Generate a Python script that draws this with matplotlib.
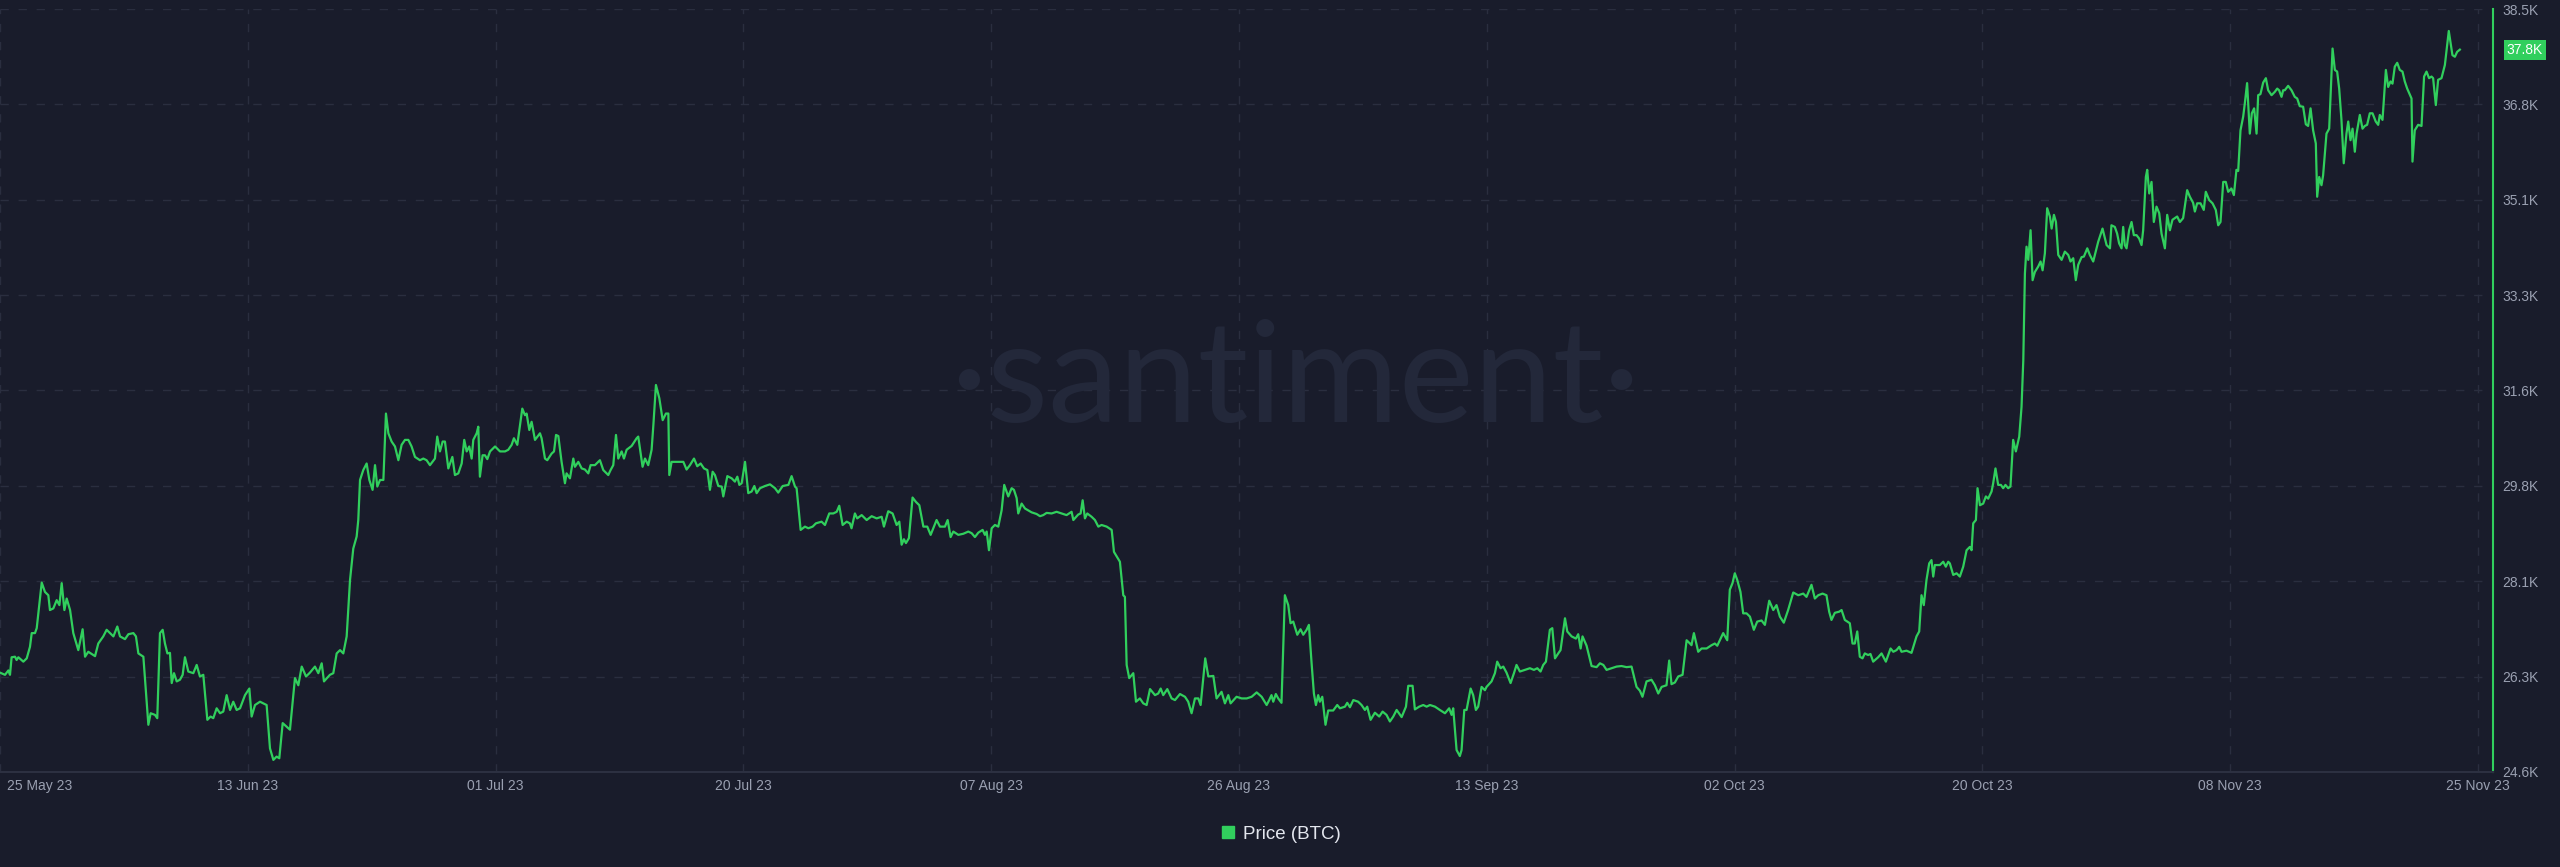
import numpy as np
import matplotlib
matplotlib.use("Agg")
import matplotlib.pyplot as plt
from matplotlib.lines import Line2D
from matplotlib.transforms import ScaledTranslation, blended_transform_factory

# BTC price, (days since chart start, price in K USD)
seg_may_jun = [
    (0.00, 26.41), (0.37, 26.37), (0.49, 26.41), (0.62, 26.45), (0.74, 26.37), (0.86, 26.69),
    (1.11, 26.70), (1.23, 26.64), (1.36, 26.69), (1.73, 26.61), (1.98, 26.67), (2.22, 26.88),
    (2.35, 27.13), (2.59, 27.13), (2.72, 27.22), (3.09, 28.05), (3.33, 27.88), (3.58, 27.82),
    (3.70, 27.55), (3.95, 27.58), (4.20, 27.73), (4.40, 27.64), (4.57, 28.04), (4.77, 27.55),
    (4.94, 27.76), (5.19, 27.55), (5.43, 27.13), (5.80, 26.82), (6.12, 27.20), (6.30, 26.70),
    (6.54, 26.79), (7.04, 26.71), (7.28, 26.94), (7.65, 27.07), (7.90, 27.19), (8.15, 27.13),
    (8.40, 27.07), (8.69, 27.25), (8.89, 27.07), (9.26, 27.02), (9.51, 27.11), (9.88, 27.13),
    (10.07, 27.07), (10.25, 26.76), (10.62, 26.70), (10.99, 25.46), (11.16, 25.67), (11.48, 25.64),
    (11.65, 25.58), (11.85, 27.13), (12.05, 27.19), (12.22, 26.94), (12.40, 26.76), (12.59, 26.77),
    (12.72, 26.22), (12.89, 26.40), (13.09, 26.25), (13.33, 26.28), (13.53, 26.37), (13.70, 26.69),
    (13.95, 26.43), (14.32, 26.40), (14.57, 26.55), (14.81, 26.34), (15.06, 26.37), (15.36, 25.55),
    (15.60, 25.61), (15.80, 25.58), (16.05, 25.76), (16.30, 25.67), (16.54, 25.70), (16.79, 26.00),
    (17.04, 25.73), (17.28, 25.88), (17.53, 25.73), (17.78, 25.76), (18.15, 26.00), (18.47, 26.12),
    (18.64, 25.61), (18.89, 25.82), (19.26, 25.88), (19.51, 25.85), (19.75, 25.82), (20.00, 25.03),
    (20.25, 24.82), (20.49, 24.88), (20.69, 24.85), (20.94, 25.49), (21.48, 25.37), (21.85, 26.31),
    (22.10, 26.18), (22.35, 26.52), (22.67, 26.34), (22.96, 26.41), (23.33, 26.52), (23.58, 26.40),
    (23.83, 26.58), (24.00, 26.25), (24.44, 26.37), (24.69, 26.40), (24.94, 26.76), (25.19, 26.82),
    (25.43, 26.76), (25.68, 27.07), (25.93, 28.10), (26.17, 28.67), (26.42, 28.89), (26.54, 29.19),
    (26.67, 29.92), (26.91, 30.10), (27.16, 30.22), (27.36, 29.92), (27.60, 29.74), (27.78, 30.19),
    (27.95, 29.80), (28.15, 29.92), (28.40, 29.92), (28.59, 31.13), (28.77, 30.77), (29.01, 30.62),
    (29.26, 30.53), (29.51, 30.28), (29.75, 30.56), (30.00, 30.65), (30.25, 30.65), (30.49, 30.53),
    (30.74, 30.34), (31.11, 30.28), (31.36, 30.31), (31.60, 30.28),
]
seg_jul = [
    (31.85, 30.19), (32.22, 30.31), (32.39, 30.71), (32.59, 30.44), (32.79, 30.62), (32.96, 30.62),
    (33.21, 30.13), (33.51, 30.34), (33.70, 30.01), (33.95, 30.04), (34.20, 30.22), (34.39, 30.65),
    (34.57, 30.44), (34.76, 30.53), (34.94, 30.31), (35.06, 30.65), (35.31, 30.77), (35.43, 30.89),
    (35.55, 29.98), (35.75, 30.37), (35.92, 30.37), (36.10, 30.30), (36.30, 30.44), (36.67, 30.53),
    (37.04, 30.44), (37.41, 30.44), (37.65, 30.47), (37.90, 30.56), (38.07, 30.68), (38.32, 30.56),
    (38.69, 31.22), (38.89, 31.10), (39.01, 31.13), (39.21, 30.83), (39.38, 30.98), (39.63, 30.65),
    (40.00, 30.77), (40.12, 30.68), (40.37, 30.31), (40.54, 30.28), (40.86, 30.40), (41.04, 30.44),
    (41.19, 30.74), (41.36, 30.72), (41.60, 30.25), (41.85, 29.86), (41.97, 30.04), (42.22, 29.95),
    (42.47, 30.31), (42.59, 30.16), (42.84, 30.25), (43.09, 30.13), (43.33, 30.11), (43.58, 30.04),
    (43.75, 30.19), (44.07, 30.19), (44.44, 30.28), (44.69, 30.10), (45.06, 30.01), (45.23, 30.10),
    (45.43, 30.19), (45.63, 30.74), (45.80, 30.31), (46.05, 30.44), (46.22, 30.31), (46.42, 30.47),
    (46.79, 30.54), (47.16, 30.68), (47.28, 30.71), (47.60, 30.16), (47.78, 30.31), (48.02, 30.19),
    (48.27, 30.47), (48.40, 30.92), (48.59, 31.65), (48.84, 31.41), (49.09, 31.01), (49.33, 31.13),
    (49.51, 31.13), (49.58, 30.01), (49.75, 30.25), (50.12, 30.25), (50.62, 30.25), (50.86, 30.11),
    (51.11, 30.19), (51.41, 30.31), (51.65, 30.17), (51.90, 30.22), (52.15, 30.13), (52.40, 30.10),
    (52.59, 29.74), (52.79, 30.07), (52.96, 30.01), (53.21, 29.81), (53.46, 29.80), (53.58, 29.62),
    (53.88, 29.99), (54.20, 29.95), (54.44, 29.89), (54.62, 29.98), (54.77, 29.83), (54.94, 29.86),
    (55.19, 30.25), (55.43, 29.68), (55.68, 29.71), (55.88, 29.81), (56.05, 29.68), (56.30, 29.77),
    (56.67, 29.81), (57.04, 29.84), (57.41, 29.77), (57.65, 29.69), (57.98, 29.81), (58.40, 29.83),
    (58.64, 29.99), (58.89, 29.80), (59.01, 29.77), (59.31, 29.01), (59.63, 29.07), (59.88, 29.04),
    (60.20, 29.07), (60.44, 29.13), (60.86, 29.16), (61.11, 29.10), (61.43, 29.31), (61.73, 29.31),
    (61.98, 29.34), (62.17, 29.45), (62.42, 29.10), (62.72, 29.16),
]
seg_aug = [
    (62.96, 29.13), (63.08, 29.04), (63.33, 29.31), (63.50, 29.22), (63.83, 29.28), (64.20, 29.19),
    (64.57, 29.26), (64.94, 29.22), (65.31, 29.25), (65.48, 29.07), (65.80, 29.35), (66.12, 29.31),
    (66.42, 29.10), (66.62, 29.16), (66.79, 28.74), (66.96, 28.84), (67.11, 28.77), (67.33, 28.86),
    (67.60, 29.60), (67.85, 29.52), (68.10, 29.46), (68.40, 29.07), (68.69, 29.07), (68.94, 28.92),
    (69.38, 29.19), (69.63, 29.07), (70.00, 29.07), (70.20, 29.19), (70.42, 28.88), (70.62, 28.98),
    (70.99, 28.92), (71.36, 28.94), (71.73, 28.98), (71.98, 28.95), (72.22, 28.88), (72.47, 28.96),
    (72.79, 29.01), (72.96, 28.92), (73.09, 28.98), (73.26, 28.64), (73.46, 29.04), (73.70, 29.10),
    (73.95, 29.07), (74.20, 29.37), (74.39, 29.83), (74.69, 29.62), (74.94, 29.77), (75.11, 29.74),
    (75.31, 29.59), (75.43, 29.31), (75.68, 29.49), (75.93, 29.40), (76.42, 29.33), (76.79, 29.30),
    (77.04, 29.26), (77.28, 29.28), (77.53, 29.32), (77.90, 29.31), (78.27, 29.34), (78.64, 29.31),
    (79.01, 29.28), (79.38, 29.34), (79.51, 29.19), (79.87, 29.29), (80.05, 29.31), (80.20, 29.55),
    (80.37, 29.22), (80.54, 29.31), (80.86, 29.25), (81.11, 29.19), (81.36, 29.07), (81.60, 29.10),
    (81.98, 29.07), (82.35, 29.01), (82.52, 28.61), (82.96, 28.43), (83.21, 27.82), (83.33, 27.79),
    (83.46, 26.55), (83.65, 26.31), (83.95, 26.40), (84.15, 25.88), (84.44, 25.94), (84.69, 25.85),
    (84.94, 25.82), (85.19, 26.11), (85.56, 26.00), (85.80, 26.03), (85.98, 26.12), (86.17, 26.00),
    (86.47, 26.11), (86.79, 25.94), (87.04, 25.91), (87.41, 26.02), (87.78, 25.97), (88.02, 25.88),
    (88.27, 25.67), (88.52, 25.94), (88.77, 25.94), (88.94, 25.82), (89.28, 26.67), (89.51, 26.34),
    (89.88, 26.35), (90.12, 25.94), (90.49, 26.06), (90.74, 25.85), (90.99, 26.00), (91.16, 25.85),
    (91.60, 25.97), (91.98, 25.94), (92.35, 25.94), (92.72, 25.97), (93.09, 26.05), (93.46, 25.97),
    (93.83, 25.82),
]
seg_sep = [
    (94.02, 25.91), (94.19, 26.00), (94.32, 25.88), (94.51, 26.02), (94.69, 25.94), (94.93, 25.86),
    (95.18, 27.82), (95.43, 27.64), (95.60, 27.31), (95.80, 27.34), (96.10, 27.10), (96.34, 27.20),
    (96.54, 27.10), (96.79, 27.19), (96.96, 27.28), (97.16, 26.58), (97.33, 26.03), (97.48, 25.82),
    (97.65, 26.00), (97.77, 25.88), (97.95, 25.97), (98.19, 25.46), (98.39, 25.72), (98.76, 25.72),
    (99.06, 25.82), (99.26, 25.76), (99.63, 25.79), (99.80, 25.86), (100.00, 25.78), (100.25, 25.91),
    (100.61, 25.88), (100.86, 25.82), (101.11, 25.73), (101.28, 25.79), (101.53, 25.55), (101.85, 25.68),
    (102.17, 25.61), (102.42, 25.70), (102.71, 25.64), (102.96, 25.52), (103.21, 25.61), (103.46, 25.73),
    (103.83, 25.60), (104.15, 25.79), (104.32, 26.17), (104.64, 26.17), (104.81, 25.74), (105.13, 25.79),
    (105.43, 25.82), (105.68, 25.79), (105.93, 25.82), (106.30, 25.79), (106.66, 25.73), (107.04, 25.67),
    (107.35, 25.76), (107.53, 25.64), (107.65, 25.76), (107.90, 25.00), (108.14, 24.89), (108.27, 25.00),
    (108.47, 25.73), (108.64, 25.73), (108.94, 26.12), (109.13, 26.00), (109.33, 25.73), (109.50, 25.79),
    (109.75, 26.15), (110.00, 26.09), (110.12, 26.15), (110.49, 26.25), (110.74, 26.40), (110.91, 26.61),
    (111.16, 26.49), (111.36, 26.52), (111.60, 26.41), (111.90, 26.22), (112.15, 26.40), (112.34, 26.55),
    (112.59, 26.43), (112.96, 26.46), (113.33, 26.49), (113.63, 26.46), (113.88, 26.49), (114.12, 26.43),
    (114.32, 26.55), (114.52, 26.61), (114.81, 27.19), (114.99, 27.22), (115.19, 26.67), (115.43, 26.76),
    (115.60, 26.82), (115.93, 27.40), (116.10, 27.16), (116.42, 27.07), (116.74, 27.03), (116.91, 27.11),
    (117.09, 26.85), (117.23, 27.07), (117.53, 26.90), (117.90, 26.53), (118.27, 26.51), (118.52, 26.58),
    (118.77, 26.55), (119.01, 26.46), (119.38, 26.49), (119.75, 26.52), (120.12, 26.53), (120.49, 26.51),
    (120.86, 26.52), (121.23, 26.15), (121.48, 26.08), (121.67, 25.97), (121.97, 26.25), (122.34, 26.28),
    (122.59, 26.18), (122.84, 26.03), (123.09, 26.15), (123.45, 26.18), (123.65, 26.63), (123.82, 26.20),
    (124.07, 26.23), (124.32, 26.34), (124.64, 26.37), (124.94, 27.00), (125.19, 26.94),
]
seg_oct = [
    (125.30, 26.91), (125.48, 27.13), (125.80, 26.79), (126.05, 26.85), (126.42, 26.85), (126.79, 26.91),
    (127.03, 26.94), (127.21, 26.90), (127.40, 27.00), (127.65, 27.13), (127.95, 27.00), (128.14, 27.92),
    (128.34, 28.04), (128.51, 28.22), (128.69, 28.10), (128.93, 27.88), (129.13, 27.49), (129.38, 27.49),
    (129.63, 27.43), (129.92, 27.19), (130.17, 27.34), (130.49, 27.36), (130.74, 27.28), (131.06, 27.72),
    (131.36, 27.55), (131.60, 27.64), (131.85, 27.43), (132.14, 27.32), (132.46, 27.55), (132.84, 27.87),
    (133.21, 27.82), (133.58, 27.85), (133.82, 27.79), (134.19, 28.01), (134.44, 27.76), (134.69, 27.82),
    (135.01, 27.85), (135.30, 27.82), (135.50, 27.52), (135.67, 27.37), (135.92, 27.50), (136.24, 27.52),
    (136.42, 27.55), (136.66, 27.37), (137.03, 27.31), (137.23, 26.94), (137.40, 26.94), (137.58, 27.16),
    (137.77, 26.70), (137.97, 26.67), (138.14, 26.76), (138.39, 26.73), (138.56, 26.75), (138.76, 26.61),
    (139.13, 26.69), (139.38, 26.76), (139.70, 26.61), (140.05, 26.85), (140.25, 26.79), (140.49, 26.82),
    (140.69, 26.88), (140.86, 26.79), (141.23, 26.81), (141.60, 26.77), (141.97, 27.07), (142.17, 27.16),
    (142.34, 27.82), (142.51, 27.64), (142.71, 28.10), (142.91, 28.40), (143.08, 28.46), (143.21, 28.16),
    (143.33, 28.37), (143.70, 28.37), (143.95, 28.43), (144.14, 28.34), (144.32, 28.43), (144.44, 28.40),
    (144.69, 28.19), (144.94, 28.22), (145.18, 28.16), (145.43, 28.34), (145.68, 28.64), (145.92, 28.70),
    (146.05, 28.64), (146.17, 29.13), (146.37, 29.19), (146.49, 29.77), (146.67, 29.46), (146.91, 29.49),
    (147.11, 29.62), (147.28, 29.58), (147.53, 29.71), (147.65, 29.86), (147.82, 30.13), (148.02, 29.83),
    (148.22, 29.83), (148.39, 29.77), (148.56, 29.83), (148.76, 29.77), (148.93, 29.80), (149.13, 30.65),
    (149.33, 30.44), (149.58, 30.71), (149.75, 31.25), (149.88, 32.10), (150.00, 33.68), (150.12, 34.17),
    (150.25, 33.93), (150.42, 34.47), (150.57, 33.56), (150.74, 33.71), (150.99, 33.81), (151.16, 33.90),
    (151.31, 33.74), (151.48, 34.05), (151.65, 34.87), (151.85, 34.72), (151.98, 34.50), (152.15, 34.75),
    (152.30, 34.62), (152.47, 34.02), (152.72, 33.93), (152.96, 34.08), (153.21, 34.02), (153.38, 33.90),
    (153.58, 33.96), (153.77, 33.56), (153.95, 33.84), (154.20, 33.98), (154.37, 33.99), (154.62, 34.14),
    (154.81, 34.02), (155.06, 33.90), (155.43, 34.26), (155.75, 34.50), (156.05, 34.20), (156.30, 34.14),
]
seg_nov = [
    (156.41, 34.56), (156.66, 34.53), (156.83, 34.41), (156.98, 34.23), (157.16, 34.14), (157.28, 34.53),
    (157.40, 34.20), (157.53, 34.14), (157.72, 34.47), (157.90, 34.62), (158.07, 34.38), (158.27, 34.38),
    (158.46, 34.32), (158.64, 34.20), (158.76, 34.47), (158.96, 35.44), (159.06, 35.57), (159.21, 35.14),
    (159.38, 35.35), (159.55, 34.62), (159.75, 34.90), (159.95, 34.78), (160.12, 34.41), (160.37, 34.14),
    (160.54, 34.75), (160.74, 34.47), (160.93, 34.66), (161.28, 34.72), (161.48, 34.62), (161.72, 34.69),
    (162.02, 35.20), (162.22, 35.08), (162.46, 34.97), (162.59, 34.81), (162.76, 34.96), (163.01, 34.96),
    (163.25, 34.84), (163.40, 35.17), (163.65, 35.02), (163.90, 34.96), (164.14, 34.84), (164.32, 34.56),
    (164.49, 34.62), (164.69, 35.35), (164.88, 35.35), (165.06, 35.17), (165.30, 35.23), (165.48, 35.11),
    (165.67, 35.57), (165.80, 35.55), (165.97, 36.29), (166.17, 36.54), (166.29, 36.78), (166.46, 37.15),
    (166.66, 36.23), (166.81, 36.60), (166.98, 36.69), (167.16, 36.23), (167.28, 36.93), (167.45, 36.95),
    (167.65, 37.16), (167.85, 37.24), (168.02, 37.02), (168.27, 36.93), (168.51, 36.99), (168.69, 37.05),
    (168.83, 37.02), (169.01, 36.90), (169.13, 37.02), (169.25, 37.02), (169.50, 37.10), (169.75, 37.02),
    (169.99, 36.90), (170.17, 36.87), (170.36, 36.73), (170.61, 36.72), (170.81, 36.40), (170.98, 36.37),
    (171.16, 36.69), (171.35, 36.29), (171.55, 36.05), (171.65, 35.08), (171.80, 35.44), (171.97, 35.29),
    (172.09, 35.47), (172.34, 36.23), (172.54, 36.32), (172.79, 37.78), (172.96, 37.39), (173.13, 37.36),
    (173.28, 37.05), (173.45, 36.48), (173.62, 35.69), (173.82, 36.23), (173.95, 36.45), (174.12, 36.11),
    (174.27, 36.32), (174.44, 35.90), (174.57, 36.23), (174.81, 36.57), (175.01, 36.32), (175.18, 36.37),
    (175.35, 36.39), (175.55, 36.60), (175.75, 36.60), (175.99, 36.45), (176.17, 36.39), (176.29, 36.57),
    (176.49, 36.48), (176.74, 37.39), (176.91, 37.08), (177.08, 37.18), (177.23, 37.14), (177.40, 37.45),
    (177.58, 37.52), (177.77, 37.39), (177.97, 37.36), (178.14, 37.18), (178.32, 37.05), (178.64, 36.87),
    (178.71, 35.72), (178.88, 36.29), (179.13, 36.39), (179.38, 36.37), (179.57, 37.27), (179.75, 37.36),
    (179.94, 37.24), (180.12, 37.27), (180.24, 37.24), (180.44, 36.75), (180.61, 37.21), (180.86, 37.24),
    (181.11, 37.48), (181.40, 38.10), (181.67, 37.66), (181.85, 37.63), (182.02, 37.72), (182.22, 37.76),
]

x_tick_labels = ["25 May 23", "13 Jun 23", "01 Jul 23", "20 Jul 23", "07 Aug 23", "26 Aug 23",
                 "13 Sep 23", "02 Oct 23", "20 Oct 23", "08 Nov 23", "25 Nov 23"]
y_tick_labels = ["24.6K", "26.3K", "28.1K", "29.8K", "31.6K", "33.3K", "35.1K", "36.8K", "38.5K"]
y_min, y_max = 24.6, 38.5
series_name = "Price (BTC)"

# colours
bg = "#191c2b"
green = "#31cf5d"
grid_col = "#2a2e3f"
label_col = "#9aa0b1"

plt.rcParams["font.family"] = ["Liberation Sans", "DejaVu Sans"]

points = seg_may_jun + seg_jul + seg_aug + seg_sep + seg_oct + seg_nov
days = np.array([p[0] for p in points])
price = np.array([p[1] for p in points])

fig = plt.figure(figsize=(25.6, 8.67), dpi=100, facecolor=bg)
ax = fig.add_axes([0.0, 0.1096, 0.9738, 0.8800], facecolor=bg)

# watermark behind the line
fig.text(0.506, 0.513, "\u00b7santiment\u00b7", color="#23283a", fontsize=102,
         family=["Lato", "DejaVu Sans"], fontweight="normal", ha="center", va="baseline",
         zorder=0)

ax.plot(days, price, color=green, lw=1.6, solid_joinstyle="round", zorder=3)

# axis limits and ticks: ticks sit at equal spacing across the axis, like the source app
x_end = 184.67
tick_step = 18.356
ax.set_xlim(0, x_end)
ax.set_ylim(y_min, y_max)
ax.set_xticks(np.arange(len(x_tick_labels)) * tick_step)
ax.set_xticklabels(x_tick_labels)
ax.set_yticks(np.linspace(y_min, y_max, len(y_tick_labels)))
ax.set_yticklabels(y_tick_labels)

ax.yaxis.tick_right()
ax.tick_params(axis="both", length=0, labelsize=10, labelcolor=label_col)
ax.tick_params(axis="y", pad=7)
ax.tick_params(axis="x", pad=5)

first = ax.get_xticklabels()[0]
first.set_ha("left")
first.set_transform(first.get_transform() + ScaledTranslation(5 / 72, 0, fig.dpi_scale_trans))

ax.grid(True, color=grid_col, lw=1, ls=(0, (6, 7)))
ax.set_axisbelow(True)

for side in ["left", "top"]:
    ax.spines[side].set_visible(False)
ax.spines["right"].set_color(green)
ax.spines["right"].set_linewidth(1.5)
ax.spines["bottom"].set_color("#2c3041")
ax.spines["bottom"].set_linewidth(1.5)

# last value badge on the right axis
trans = blended_transform_factory(ax.transAxes, ax.transData)
ax.text(1.0055, price[-1], f"{price[-1]:.1f}K", transform=trans, ha="left", va="center",
        fontsize=10, color="white",
        bbox=dict(boxstyle="square,pad=0.22", fc=green, ec="none"), clip_on=False)

handle = Line2D([], [], marker="s", linestyle="none", color=green, markersize=8.5)
fig.legend([handle], [series_name], loc="center", bbox_to_anchor=(0.5, 0.038),
           frameon=False, fontsize=13.5, labelcolor="#e3e6ee", handletextpad=0.3,
           handlelength=1.0)

fig.savefig("out.png", dpi=100, facecolor=bg)
